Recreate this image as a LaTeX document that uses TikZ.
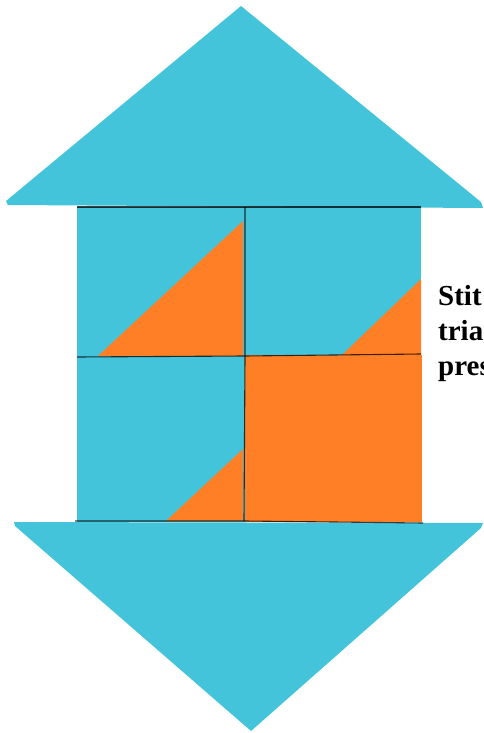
\documentclass[tikz,border=0pt]{standalone}
\usepackage{fontspec}
\setmainfont{Liberation Serif}
\usepackage{tikz}
\usetikzlibrary{positioning}

\definecolor{quiltblue}{HTML}{44C4DA}
\definecolor{quiltorange}{HTML}{FF7F27}

\tikzset{
  bluepiece/.style={fill=quiltblue, draw=none},
  orangepiece/.style={fill=quiltorange, draw=none},
  seam/.style={draw=black, draw opacity=0.75, line width=1.1pt},
  note/.style={font=\bfseries\fontsize{29}{35}\selectfont, align=left, anchor=north west, inner sep=0pt}
}

\begin{document}
\begin{tikzpicture}[x=1pt, y=-1pt]
  \useasboundingbox (0,0) rectangle (483,733);

  % arrow heads
  \fill[bluepiece] (6,201) -- (241,6) -- (481,202) -- (483,208) -- (8,205) -- cycle;
  \fill[bluepiece] (14,522) -- (483,523) -- (481,528) -- (251,731) -- (15,526) -- cycle;

  % the four blocks
  \fill[bluepiece] (77,207) rectangle (421,522);
  \fill[orangepiece] (98,356) -- (243,221) -- (243,356) -- cycle;
  \fill[orangepiece] (342,355) -- (421,279) -- (421,355) -- cycle;
  \fill[orangepiece] (166,521) -- (243,449) -- (243,521) -- cycle;
  \fill[orangepiece] (245,355) rectangle (422,522);

  % seams
  \draw[seam] (77,207) -- (421,207);
  \draw[seam] (77,357) -- (245,356) -- (421,354);
  \draw[seam] (75,521) -- (245,521) -- (423,523);
  \draw[seam] (245,207) -- (245,357) -- (244,521);

  % cut off note
  \node[note] (hint) at (438,285) {Stit\\tria\\pres};
\end{tikzpicture}
\end{document}
